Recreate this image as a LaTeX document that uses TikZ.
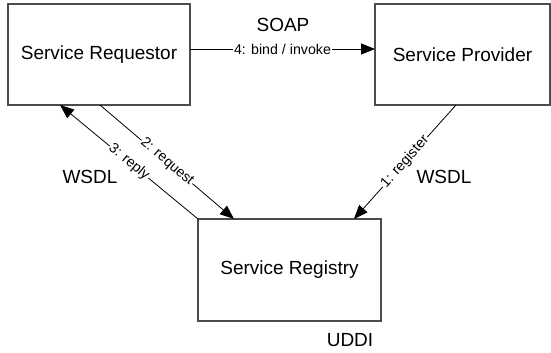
\documentclass[tikz,border=0pt]{standalone}
\usepackage{fontspec}
\setmainfont{Liberation Sans}
\usetikzlibrary{arrows.meta,calc}
\begin{document}
\begin{tikzpicture}[x=1pt,y=-1pt,
  box/.style={draw=black!70, line width=1.1pt, fill=white, outer sep=0pt,
    inner sep=0pt, font=\fontsize{19}{23}\selectfont},
  plain/.style={font=\fontsize{19}{23}\selectfont, inner sep=0pt},
  lbl/.style={font=\fontsize{14.2}{16}\selectfont, fill=white, inner sep=1pt, sloped},
  conn/.style={draw=black, line width=0.8pt, -{Triangle[length=14pt,width=11pt]}}
]
\useasboundingbox (0,0) rectangle (551,353);
\node[box, minimum width=182pt, minimum height=101pt] (req) at (99,54.5) {Service Requestor};
\node[box, minimum width=175pt, minimum height=101pt] (prov) at (462.5,54.5) {Service Provider};
\node[box, minimum width=183pt, minimum height=102pt] (reg) at (289.5,270) {Service Registry};

\node[plain] (soap) at (283,25) {SOAP};
\node[plain] (wsdlL) at (90,177) {WSDL};
\node[plain] (wsdlR) at (444,177) {WSDL};
\node[plain] (uddi) at (350,340) {UDDI};

\coordinate (reqA) at ($(req.south)+(1,0)$);
\coordinate (reqB) at ($(req.south west)+(52,0)$);
\coordinate (regA) at ($(reg.north west)+(36,0)$);
\coordinate (regB) at ($(reg.north east)+(-27,0)$);
\coordinate (provA) at ($(prov.south)+(-6.5,0)$);

\draw[conn] (req.east |- 0,49) -- node[lbl] {4: bind / invoke} (prov.west |- 0,49);
\draw[conn] (reqA) -- node[lbl] {2: request} (regA);
\draw[conn] (reg.north west) -- node[lbl] {3: reply} (reqB);
\draw[conn] (provA) -- node[lbl] {1: register} (regB);
\end{tikzpicture}
\end{document}
